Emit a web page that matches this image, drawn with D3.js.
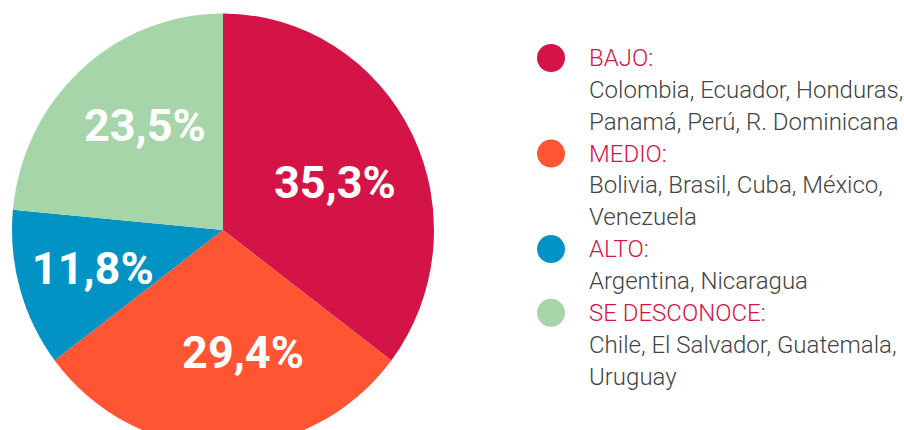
<!DOCTYPE html>
<html>
<head>
<meta charset="utf-8">
<script src="https://cdn.jsdelivr.net/npm/d3@7"></script>
<style>
  body { margin: 0; background: #fff; }
  svg { display: block; font-family: Roboto, "Noto Sans", sans-serif; }
</style>
</head>
<body>
<div id="chart"></div>
<script>
// categories, values (%) and the countries listed for each one
const categories = ["BAJO:", "MEDIO:", "ALTO:", "SE DESCONOCE:"];
const values = [35.3, 29.4, 11.8, 23.5];
const colors = ["#d41446", "#ff5533", "#0093c4", "#a5d5a8"];
const countries = [
  ["Colombia", "Ecuador", "Honduras", "Panamá", "Perú", "R. Dominicana"],
  ["Bolivia", "Brasil", "Cuba", "México", "Venezuela"],
  ["Argentina", "Nicaragua"],
  ["Chile", "El Salvador", "Guatemala", "Uruguay"],
];

const width = 904, height = 430;
const cx = 223, cy = 230, radius = 211, squash = 1.026;
const labelRadius = 125;
// hand nudges for the percentage labels (the original places them by eye)
const labelNudge = [[0, 9], [20, -6], [-10, 3], [6, -10]];

const svg = d3.select("#chart").append("svg")
  .attr("width", width)
  .attr("height", height);

const pie = d3.pie().sort(null).value(d => d)(values);
const arc = d3.arc().innerRadius(0).outerRadius(radius);
const labelArc = d3.arc().innerRadius(labelRadius).outerRadius(labelRadius);

svg.append("g")
  .attr("transform", `translate(${cx},${cy}) scale(1,${squash})`)
  .selectAll("path")
  .data(pie)
  .join("path")
  .attr("d", arc)
  .attr("fill", (d, i) => colors[i]);

const fmt = d3.formatLocale({ decimal: ",", thousands: ".", grouping: [3], currency: ["", "€"] }).format(".1f");

svg.append("g")
  .attr("transform", `translate(${cx},${cy})`)
  .selectAll("text")
  .data(pie)
  .join("text")
  .attr("x", (d, i) => labelArc.centroid(d)[0] + labelNudge[i][0])
  .attr("y", (d, i) => labelArc.centroid(d)[1] * squash + labelNudge[i][1])
  .attr("dy", "0.35em")
  .attr("text-anchor", "middle")
  .attr("fill", "#fff")
  .attr("font-weight", 700)
  .attr("font-size", 45)
  .text(d => fmt(d.data) + "%");

// legend
const legendX = 551, textX = 589, firstBaseline = 66, lineH = 31.85, maxW = 330;
const fontSize = 24;
const legend = svg.append("g");
let line = 0;
categories.forEach((cat, i) => {
  const y0 = firstBaseline + line * lineH;
  legend.append("circle")
    .attr("cx", legendX)
    .attr("cy", y0 - 8)
    .attr("r", 14)
    .attr("fill", colors[i]);
  legend.append("text")
    .attr("x", textX)
    .attr("y", y0)
    .attr("font-size", fontSize)
    .attr("font-weight", 300)
    .attr("fill", "#d41446")
    .text(cat);
  line++;

  // wrap the country list to the legend width
  const words = countries[i].map((c, j) => c + (j < countries[i].length - 1 ? "," : ""));
  let current = [];
  let t = legend.append("text")
    .attr("x", textX)
    .attr("y", firstBaseline + line * lineH)
    .attr("font-size", fontSize)
    .attr("font-weight", 300)
    .attr("fill", "#444");
  words.forEach(w => {
    current.push(w);
    t.text(current.join(" "));
    if (t.node().getComputedTextLength() > maxW && current.length > 1) {
      current.pop();
      t.text(current.join(" "));
      line++;
      current = [w];
      t = legend.append("text")
        .attr("x", textX)
        .attr("y", firstBaseline + line * lineH)
        .attr("font-size", fontSize)
        .attr("font-weight", 300)
        .attr("fill", "#444")
        .text(w);
    }
  });
  line++;
});
</script>
</body>
</html>
